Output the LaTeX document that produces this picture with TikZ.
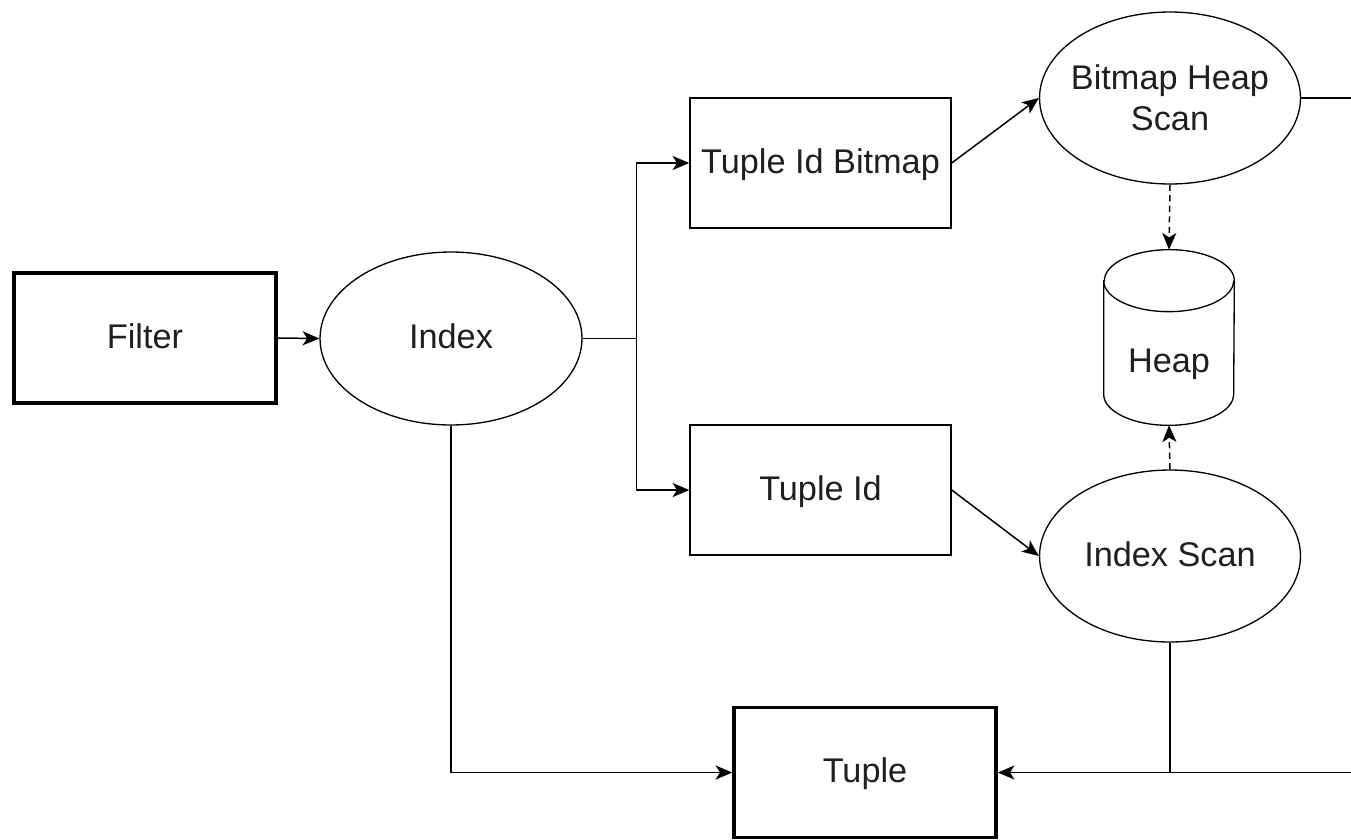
\documentclass[tikz,border=0pt]{standalone}
\usepackage{fontspec}
\setmainfont{Liberation Sans}
\usepackage{tikz}
\usetikzlibrary{arrows.meta,shapes.geometric}
\tikzset{
Trait/.style={
 draw=black, 
 line width=0.85pt
 },
Fleche/.style={
 Trait, 
 -{Stealth[length=9.5pt,width=8pt,inset=2.5pt]}
 },
TFleche/.style={
 Fleche, 
 dash pattern=on 3.5pt off 2.5pt
 },
Ligne/.style={
 text height=15.6pt, 
 text depth=3.9pt
 },
Boite/.style={
 rectangle, 
 draw=black, 
 line width=0.85pt, 
 minimum width=5.22cm, 
 minimum height=2.6cm, 
 inner sep=0pt, 
 Ligne
 },
GrosseBoite/.style={
 Boite, 
 line width=2pt, 
 minimum width=5.24cm, 
 minimum height=2.6cm
 },
Bulle/.style={
 ellipse, 
 draw=black, 
 line width=0.75pt, 
 minimum width=5.22cm, 
 minimum height=3.44cm, 
 inner xsep=-0.3cm, 
 inner ysep=0pt, 
 align=center
 },
Tonneau/.style={
 rectangle, 
 minimum width=2.6cm, 
 minimum height=3.5cm, 
 inner sep=0pt
 }
}

\begin{document}
\begin{tikzpicture}[x=0.02cm,y=0.02cm,font=\fontsize{19.5}{23.3}\selectfont,text=black!88]
\useasboundingbox (0,0) rectangle (1351,-839);
\node[GrosseBoite] (filter) at (145,-338) {Filter};
\node[Bulle, Ligne, minimum width=5.24cm, minimum height=3.46cm] (index) at (451,-338.5) {Index};
\node[Boite] (tidb) at (820.5,-163) {Tuple Id Bitmap};
\node[Boite] (tid) at (820.5,-490) {Tuple Id};
\node[Bulle] (bhs) at (1170,-98) {Bitmap Heap\\Scan};
\node[Bulle, Ligne] (iscan) at (1170,-556) {Index Scan};
\node[Tonneau, label={[Ligne, yshift=-0.5cm]center:Heap}] (heap) at (1169,-337.5) {};
\node[GrosseBoite] (tuple) at (865,-772.5) {Tuple};
\draw[line width=0.75pt] ([yshift=-0.62cm]heap.north west) -- ([yshift=0.62cm]heap.south west) 
 arc[start angle=180,end angle=360,x radius=1.3cm,y radius=0.62cm] -- ([yshift=-0.62cm]heap.north east) 
 arc[start angle=0,end angle=180,x radius=1.3cm,y radius=0.62cm] -- cycle;
\draw[line width=0.75pt] ([yshift=-0.62cm]heap.north west) arc[start angle=180,end angle=360,x radius=1.3cm,y radius=0.62cm];
\coordinate (fourche) at ([xshift=1.08cm]index.east);
\coordinate (bordhaut) at ([xshift=1.02cm]bhs.east);
\coordinate (bordbas) at ([xshift=7.1cm]tuple.east);
\draw[Fleche] (filter.east) -- (index.west);
\draw[Trait] (index.east) -- (fourche);
\draw[Fleche] (fourche) |- (tidb.west);
\draw[Fleche] (fourche) |- (tid.west);
\draw[Fleche] (tidb.east) -- (bhs.west);
\draw[Fleche] (tid.east) -- (iscan.west);
\draw[TFleche] (bhs.south) -- (heap.north);
\draw[TFleche] (iscan.north) -- (heap.south);
\draw[Trait] (bhs.east) -- (bordhaut);
\draw[Fleche] (bordbas) -- (tuple.east);
\draw[Trait] (iscan.south) -- (iscan.south |- tuple.east);
\draw[Fleche] (index.south) |- (tuple.west);
\end{tikzpicture}
\end{document}
